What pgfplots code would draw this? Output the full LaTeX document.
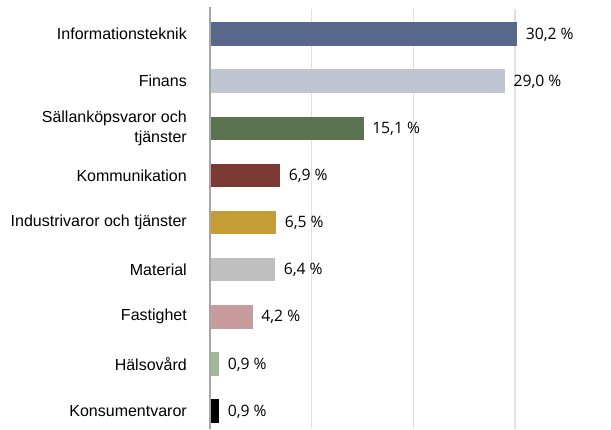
\documentclass[border=0pt]{standalone}
\usepackage{pgfplots}
\pgfplotsset{compat=1.18}
\usepackage{fontspec}
\setmainfont{Liberation Sans}
\newfontfamily\valfont{Open Sans}
\definecolor{c1}{HTML}{58688A}
\definecolor{c2}{HTML}{BFC5D1}
\definecolor{c3}{HTML}{5B7350}
\definecolor{c4}{HTML}{7B3A33}
\definecolor{c5}{HTML}{C59D35}
\definecolor{c6}{HTML}{BFBFBF}
\definecolor{c7}{HTML}{C89C9C}
\definecolor{c8}{HTML}{A0B896}
\definecolor{c9}{HTML}{000000}
\definecolor{gridc}{HTML}{E0E0E0}
\definecolor{axc}{HTML}{A6A6A6}
\begin{document}
\begin{tikzpicture}
\useasboundingbox (0,0) rectangle (611pt,429pt);
\begin{axis}[
  at={(210pt,0pt)}, anchor=south west,
  scale only axis,
  width=390pt, height=420pt,
  xmin=0, xmax=38.35,
  ymin=-0.53, ymax=8.38,
  y dir=reverse,
  xbar, bar width=23.5pt, bar shift=0pt,
  axis line style={draw=none},
  major tick length=0pt,
  xtick={10,20,30}, xticklabels={},
  xmajorgrids, grid style={gridc, line width=1.4pt},
  ytick={0,1,2,3,4,5,6,7,8},
  yticklabels={Informationsteknik, Finans, {Sällanköpsvaror och\\tjänster}, Kommunikation, Industrivaror och tjänster, Material, Fastighet, Hälsovård, Konsumentvaror},
  yticklabel style={align=right, anchor=east, inner sep=0pt, xshift=-23pt, font=\fontsize{16}{20.5}\selectfont},
  point meta=explicit symbolic,
  nodes near coords,
  every node near coord/.append style={anchor=west, inner sep=0pt, xshift=8.5pt, yshift=-0.5pt, font=\valfont\fontsize{15.7}{17}\selectfont, text=black},
  clip=false,
]
\addplot[fill=c1, draw=none] coordinates {(30.2,0) [30,2 \%]};
\addplot[fill=c2, draw=none] coordinates {(29.0,1) [29,0 \%]};
\addplot[fill=c3, draw=none] coordinates {(15.1,2) [15,1 \%]};
\addplot[fill=c4, draw=none] coordinates {(6.9,3) [6,9 \%]};
\addplot[fill=c5, draw=none] coordinates {(6.5,4) [6,5 \%]};
\addplot[fill=c6, draw=none] coordinates {(6.4,5) [6,4 \%]};
\addplot[fill=c7, draw=none] coordinates {(4.2,6) [4,2 \%]};
\addplot[fill=c8, draw=none] coordinates {(0.9,7) [0,9 \%]};
\addplot[fill=c9, draw=none] coordinates {(0.9,8) [0,9 \%]};
\draw[axc, line width=2pt] (axis cs:0,-0.57) -- (axis cs:0,8.38);
\end{axis}
\end{tikzpicture}
\end{document}
